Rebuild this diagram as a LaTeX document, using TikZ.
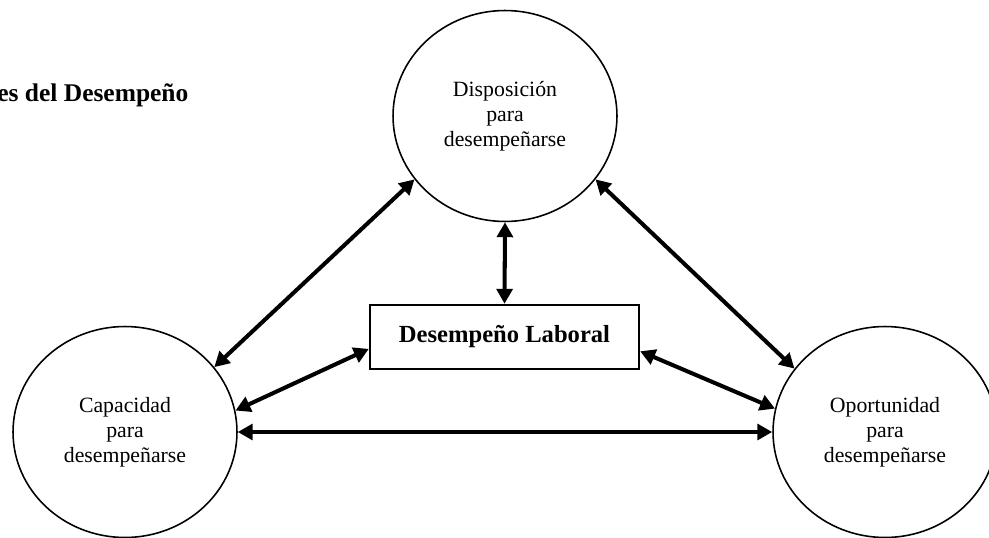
\documentclass[tikz,border=0pt]{standalone}
\usepackage{fontspec}
\setmainfont{Liberation Serif}
\usepackage{tikz}
\usetikzlibrary{arrows.meta, positioning, shapes.geometric}

\tikzset{
	factor/.style={draw, ellipse, line width=0.9pt, minimum width=4.48cm, minimum height=4.22cm, inner sep=0pt, align=center, font=\fontsize{12.4}{14.2}\selectfont},
	central/.style={draw, rectangle, line width=1.4pt, minimum width=5.38cm, minimum height=1.28cm, font=\fontsize{14}{16}\selectfont\bfseries},
	link/.style={{Triangle[length=8.5pt, width=9pt]}-{Triangle[length=8.5pt, width=9pt]}, line width=2.3pt}
}

\begin{document}
\begin{tikzpicture}[x=0.02cm, y=-0.02cm]
	\useasboundingbox (0, 0) rectangle (989, 537);
	% Nodes:
	\node[anchor=base west, inner sep=0pt, font=\fontsize{14.5}{16}\selectfont\bfseries] (title) at (-3, 101) {es del Desempeño};
	\node[factor] (disp) at (505, 116) {Disposición\\para\\desempeñarse};
	\node[factor] (cap) at (125, 432) {Capacidad\\para\\desempeñarse};
	\node[factor] (opo) at (885, 432) {Oportunidad\\para\\desempeñarse};
	\node[central] (lab) at (504.5, 337) {Desempeño Laboral};
	% Arrows:
	\draw[link] (disp.south) -- (lab.north);
	\draw[link] (disp.215) -- (cap.36);
	\draw[link] (disp.325) -- (opo.145);
	\draw[link] (lab.185) -- (cap.11);
	\draw[link] (lab.354) -- (opo.168);
	\draw[link] (cap.east) -- (opo.west);
\end{tikzpicture}
\end{document}
